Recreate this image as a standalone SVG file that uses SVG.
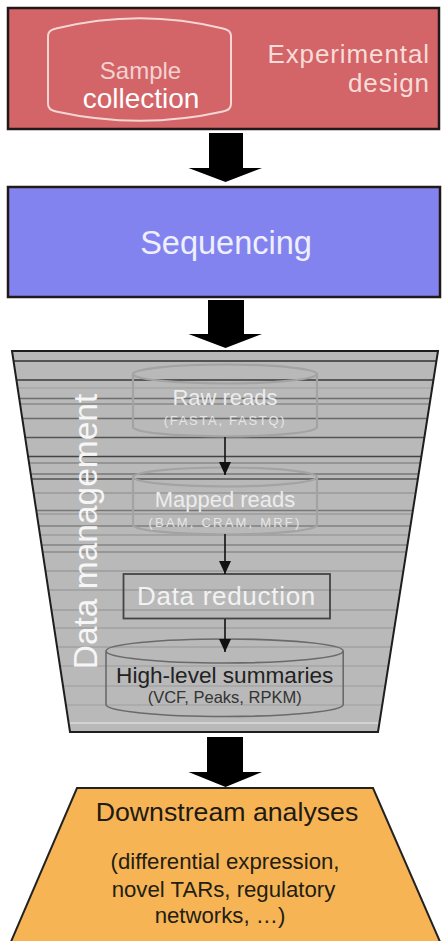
<svg xmlns="http://www.w3.org/2000/svg" width="442" height="941" viewBox="0 0 442 941">
<defs>
<style>
text{font-family:"Liberation Sans",Arial,sans-serif}
.box{stroke:#221818;stroke-width:2.5}
.big{fill:#000}
.cyl{fill:none;stroke:#a3a3a3;stroke-width:2.2}
.cyl2{fill:none;stroke:#6a6a6a;stroke-width:1.6}
.thin{stroke:#111;stroke-width:1.6;fill:none}
.stripe{stroke-width:1.6}
</style>
<marker id="ah" markerUnits="userSpaceOnUse" markerWidth="13" markerHeight="12" viewBox="0 0 13 12" refX="13" refY="6" orient="auto">
<path d="M0,0 L13,6 L0,12 Z" fill="#111"/>
</marker>
<clipPath id="trap">
<path d="M12,351 L438,351 L378,732 L70,732 Z"/>
</clipPath>
</defs>

<g id="experimental-design">
<rect class="box" x="8" y="8" width="431" height="121" fill="#d36468"/>
<path d="M48,36 Q48,30 56,28.5 Q140,8 223,28.5 Q231,30 231,36 L231,104 Q231,110 223,111.5 Q140,130 56,111.5 Q48,110 48,104 Z" fill="none" stroke="#f4d6d4" stroke-width="2"/>
<text x="140.5" y="78.5" font-size="24" fill="#f3d2d0" text-anchor="middle">Sample</text>
<text x="141" y="107.5" font-size="28" fill="#ffffff" text-anchor="middle">collection</text>
<text x="430" y="62.5" font-size="26" fill="#f8dcd8" text-anchor="end" letter-spacing="0.9">Experimental</text>
<text x="430" y="92" font-size="26" fill="#f8dcd8" text-anchor="end" letter-spacing="0.9">design</text>
</g>

<g id="sequencing">
<rect class="box" x="8" y="187" width="432" height="110" fill="#8383ef"/>
<text x="226" y="254" font-size="32.5" fill="#eef0ff" text-anchor="middle">Sequencing</text>
</g>

<g id="data-management">
<path d="M12,351 L438,351 L378,732 L70,732 Z" fill="#b9b9b9"/>
<g clip-path="url(#trap)" class="stripe">
<line x1="0" x2="442" y1="361" y2="361" stroke="#333"/>
<line x1="0" x2="442" y1="380" y2="380" stroke="#3a3a3a"/>
<line x1="0" x2="442" y1="388" y2="388" stroke="#a8a8a8"/>
<line x1="0" x2="442" y1="398.5" y2="398.5" stroke="#6e6e6e"/>
<line x1="0" x2="442" y1="404" y2="404" stroke="#8a8a8a"/>
<line x1="0" x2="442" y1="418.5" y2="418.5" stroke="#6a6a6a"/>
<line x1="0" x2="442" y1="437.5" y2="437.5" stroke="#555"/>
<line x1="0" x2="442" y1="456.5" y2="456.5" stroke="#444"/>
<line x1="0" x2="442" y1="463" y2="463" stroke="#8a8a8a"/>
<line x1="0" x2="442" y1="474" y2="474" stroke="#777"/>
<line x1="0" x2="442" y1="479" y2="479" stroke="#555"/>
<line x1="0" x2="442" y1="493" y2="493" stroke="#9a9a9a"/>
<line x1="0" x2="442" y1="510.5" y2="510.5" stroke="#777"/>
<line x1="0" x2="442" y1="514" y2="514" stroke="#9c9c9c"/>
<line x1="0" x2="442" y1="526" y2="526" stroke="#808080"/>
<line x1="0" x2="442" y1="535" y2="535" stroke="#9c9c9c"/>
<line x1="0" x2="442" y1="545" y2="545" stroke="#858585"/>
<line x1="0" x2="442" y1="552" y2="552" stroke="#8c8c8c"/>
<line x1="0" x2="442" y1="571" y2="571" stroke="#9c9c9c"/>
<line x1="0" x2="442" y1="590" y2="590" stroke="#9e9e9e"/>
<line x1="0" x2="442" y1="610" y2="610" stroke="#9e9e9e"/>
<line x1="0" x2="442" y1="628" y2="628" stroke="#a2a2a2"/>
<line x1="0" x2="442" y1="647" y2="647" stroke="#a2a2a2"/>
<line x1="0" x2="442" y1="666" y2="666" stroke="#a6a6a6"/>
<line x1="0" x2="442" y1="686" y2="686" stroke="#a6a6a6"/>
<line x1="0" x2="442" y1="705" y2="705" stroke="#a9a9a9"/>
<line x1="0" x2="442" y1="723" y2="723" stroke="#dcdcdc"/>
</g>
<path d="M12,351 L438,351 L378,732 L70,732 Z" fill="none" stroke="#1e1e1e" stroke-width="2"/>
<text transform="translate(97,531.5) rotate(-90)" font-size="33.5" fill="#f6f6f6" text-anchor="middle">Data management</text>
</g>

<g id="raw-reads">
<path class="cyl" d="M133,374 A92,9.5 0 0,1 317,374 L317,427 A92,9.5 0 0,1 133,427 Z M133,374 A92,9.5 0 0,0 317,374"/>
<text x="225" y="404.5" font-size="22" fill="#ececec" text-anchor="middle">Raw reads</text>
<text x="225" y="424.5" font-size="13" fill="#e6e6e6" text-anchor="middle" letter-spacing="1.7">(FASTA, FASTQ)</text>
</g>

<g id="mapped-reads">
<path class="cyl" d="M133,477 A92,9.5 0 0,1 317,477 L317,525 A92,9.5 0 0,1 133,525 Z M133,477 A92,9.5 0 0,0 317,477"/>
<text x="225" y="506.5" font-size="22" fill="#ececec" text-anchor="middle">Mapped reads</text>
<text x="225" y="526.5" font-size="13" fill="#e6e6e6" text-anchor="middle" letter-spacing="2.2">(BAM, CRAM, MRF)</text>
</g>

<g id="data-reduction">
<rect x="123.5" y="574" width="206.5" height="44.5" fill="none" stroke="#444" stroke-width="1.8"/>
<text x="226.5" y="605" font-size="26" fill="#f2f2f2" text-anchor="middle" letter-spacing="0.7">Data reduction</text>
</g>

<g id="high-level-summaries">
<path class="cyl2" d="M106,651 A118.6,12 0 0,1 343.2,651 L343.2,704.5 A118.6,12 0 0,1 106,704.5 Z M106,651 A118.6,12 0 0,0 343.2,651"/>
<text x="224.7" y="683.3" font-size="22.6" fill="#222" text-anchor="middle">High-level summaries</text>
<text x="224.7" y="702.7" font-size="16.5" fill="#333" text-anchor="middle">(VCF, Peaks, RPKM)</text>
</g>

<g id="downstream-analyses">
<path d="M77,788 L373,788 L441,944 L10,944 Z" fill="#f6b455" stroke="#222" stroke-width="2"/>
<text x="227" y="820.7" font-size="26.7" fill="#1e1a14" text-anchor="middle">Downstream analyses</text>
<text x="225" y="869" font-size="22.2" fill="#231d14" text-anchor="middle">(differential expression,</text>
<text x="223.5" y="896.7" font-size="22.2" fill="#231d14" text-anchor="middle">novel TARs, regulatory</text>
<text x="220" y="923.3" font-size="22.2" fill="#231d14" text-anchor="middle">networks, …)</text>
</g>

<g id="connectors">
<path class="big" d="M209,133 L243,133 L243,168 L262,168 L225.5,182 L188.5,168 L209,168 Z"/>
<path class="big" d="M208,300 L244,300 L244,334 L262,334 L225.5,348 L188.5,334 L208,334 Z"/>
<path class="big" d="M207,737 L243,737 L243,772 L262,772 L225.5,787 L188.5,772 L207,772 Z"/>
<line class="thin" x1="225" y1="437" x2="225" y2="475" marker-end="url(#ah)"/>
<line class="thin" x1="225" y1="534" x2="225" y2="574" marker-end="url(#ah)"/>
<line class="thin" x1="225" y1="619" x2="225" y2="652" marker-end="url(#ah)"/>
</g>
</svg>
